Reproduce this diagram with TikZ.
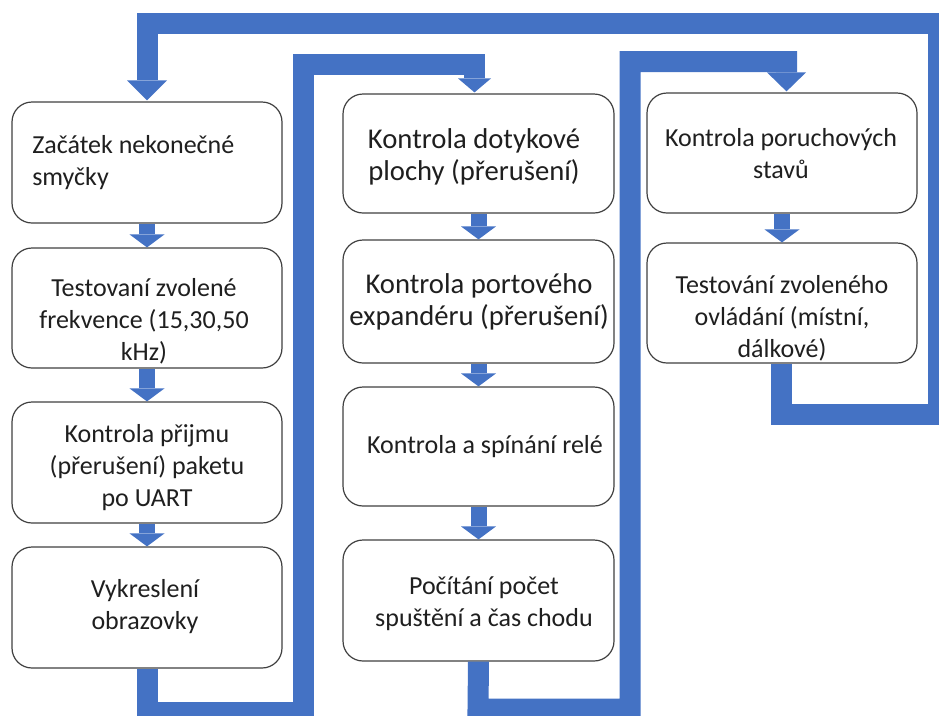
\documentclass[tikz,border=0pt]{standalone}
\usepackage{fontspec}
\setmainfont{Carlito}
\usetikzlibrary{calc,fit}
\definecolor{flowblue}{HTML}{4472C4}
\definecolor{boxline}{HTML}{404040}

% short block arrow from the bottom of one box to the top of the next
\newcommand\shortflow[2]{%
  \fill[flowblue] ($(#1.south)+(-8,0)$) rectangle ($(#2.north)+(8,-13)$);
  \fill[flowblue] ($(#2.north)+(-17.5,-13)$) -- ($(#2.north)+(17.5,-13)$) -- (#2.north) -- cycle;}
% arrow head ending on the top of a box: node, x offset, half width, length
\newcommand\headdown[4]{%
  \fill[flowblue] ($(#1.north)+(#2-#3,-#4-1)$) -- ($(#1.north)+(#2+#3,-#4-1)$) -- ($(#1.north)+(#2,-1)$) -- cycle;}

\begin{document}
\begin{tikzpicture}[x=0.75pt,y=-0.75pt,
  stepbox/.style={draw=boxline, line width=0.9pt, fill=white, rounded corners=15pt, inner sep=0pt},
  boxtext/.style={font=\fontsize{19.5}{24}\selectfont, align=center, inner sep=0pt, text=black!88},
  widetext/.style={boxtext, font=\fontsize{21.5}{24}\selectfont},
  flowline/.style={draw=flowblue, line width=15.75pt, line join=miter, line cap=butt},
]
\useasboundingbox (0,0) rectangle (939,715);
\clip (0,0) rectangle (939,715);

% boxes: first column
\node[stepbox, fit={(12,102) (282,223)}] (b1) {};
\node[stepbox, fit={(12,248) (282,368)}] (b2) {};
\node[stepbox, fit={(12,402) (282,523)}] (b3) {};
\node[stepbox, fit={(12,547) (282,668)}] (b4) {};
% second column
\node[stepbox, fit={(343,94) (614,213)}] (m1) {};
\node[stepbox, fit={(343,240) (614,363)}] (m2) {};
\node[stepbox, fit={(343,387) (614,506)}] (m3) {};
\node[stepbox, fit={(343,540) (614,661)}] (m4) {};
% third column
\node[stepbox, fit={(647,93) (917,213)}] (r1) {};
\node[stepbox, fit={(647,243) (917,363)}] (r2) {};

% texts
\node[boxtext, anchor=west, align=left] (t1) at (32,163) {Začátek nekonečné\\smyčky};
\node[boxtext] (t2) at (144,321) {Testovaní zvolené\\frekvence (15,30,50\\kHz)};
\node[boxtext] (t3) at (147,468) {Kontrola přijmu\\(přerušení) paketu\\po UART};
\node[boxtext] (t4) at (145,607) {Vykreslení\\obrazovky};
\node[widetext] (tm1) at (474,157) {Kontrola dotykové\\plochy (přerušení)};
\node[widetext] (tm2) at (479,302) {Kontrola portového\\expandéru (přerušení)};
\node[boxtext] (tm3) at (485,447) {Kontrola a spínání relé};
\node[boxtext] (tm4) at (484,604) {Počítání počet\\spuštění a čas chodu};
\node[boxtext] (tr1) at (781,154) {Kontrola poruchových\\stavů};
\node[boxtext] (tr2) at (782,318) {Testování zvoleného\\ovládání (místní,\\dálkové)};

% short arrows inside the columns
\shortflow{b1}{b2}
\shortflow{b2}{b3}
\shortflow{b3}{b4}
\shortflow{m1}{m2}
\shortflow{m2}{m3}
\shortflow{m3}{m4}
\shortflow{r1}{r2}

% first column -> second column
\draw[flowline] (b4.south) -- (147,712) -| (303.5,64) -| ($(m1.north)+(-4,-15)$);
\headdown{m1}{-4}{16.5}{14}
% second column -> third column
\draw[flowline] (m4.south) -- (478,709) -| (630,61.5) -| ($(r1.north)+(4.5,-20)$);
\headdown{r1}{4.5}{19.5}{19}
% third column -> back to the start
\draw[flowline] ($(r2.south)+(-1,0)$) -- (781,414) -| (938,23) -| ($(b1.north)+(0,-21)$);
\headdown{b1}{0}{20}{20}
\end{tikzpicture}
\end{document}
